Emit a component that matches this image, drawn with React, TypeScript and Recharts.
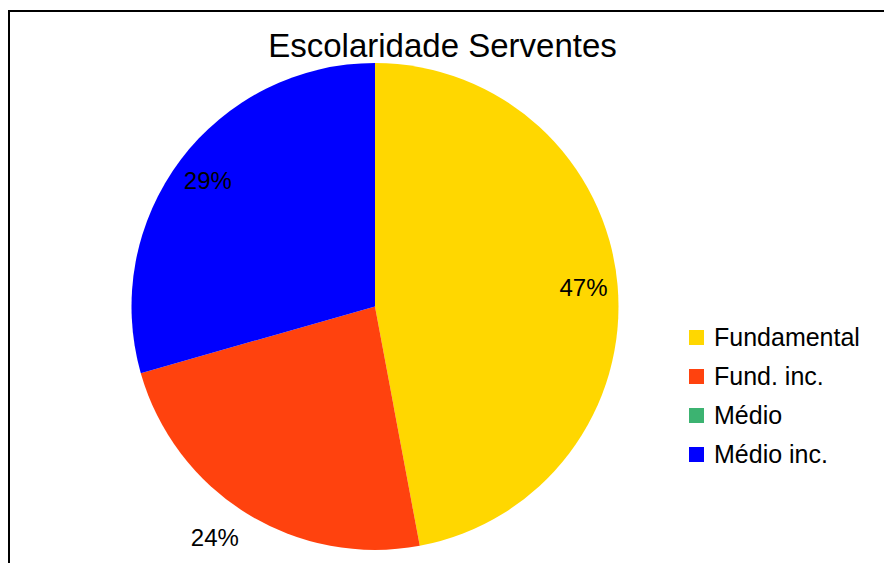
import React from "react";
import { PieChart, Pie, Cell, Legend, Customized } from "recharts";

const categories = ["Fundamental", "Fund. inc.", "Médio", "Médio inc."];
const counts = [8, 4, 0, 5];
const colors = ["#FFD700", "#FF420E", "#3CB371", "#0000FF"];
const title = "Escolaridade Serventes";

const data = categories.map((name, i) => ({ name, value: counts[i] }));

const FONT = '"Liberation Sans", Arial, Helvetica, sans-serif';
const OUTSIDE = new Set(["Fund. inc."]);
const RAD = Math.PI / 180;

const renderLabel = (props: any) => {
  const { cx, cy, midAngle, outerRadius, percent, name, value } = props;
  if (!value) return null;
  const txt = `${Math.round(percent * 100)}%`;
  const cos = Math.cos(-midAngle * RAD);
  const sin = Math.sin(-midAngle * RAD);
  if (OUTSIDE.has(name)) {
    const d = outerRadius + 15;
    const x = cx + d * cos;
    const y = cy + d * sin;
    return (
      <text x={x} y={y + 20} textAnchor="end" fontSize={24} fontFamily={FONT} fill="#000">
        {txt}
      </text>
    );
  }
  const d = outerRadius * 0.86;
  const x = cx + d * cos;
  const y = cy + d * sin;
  return (
    <text x={x} y={y} textAnchor="middle" dominantBaseline="central" fontSize={24} fontFamily={FONT} fill="#000">
      {txt}
    </text>
  );
};

const renderLegend = () => (
  <div style={{ fontFamily: FONT, fontSize: 25, color: "#000" }}>
    {categories.map((c, i) => (
      <div key={c} style={{ display: "flex", alignItems: "center", height: 39, whiteSpace: "nowrap" }}>
        <span style={{ display: "inline-block", width: 15, height: 15, background: colors[i], marginRight: 10 }} />
        <span>{c}</span>
      </div>
    ))}
  </div>
);

const Title = () => (
  <text x={432.5} y={45} textAnchor="middle" fontSize={33} fontFamily={FONT} fill="#000">
    {title}
  </text>
);

export default function App() {
  return (
    <div style={{ paddingTop: 2 }}>
      <style>{`html,body{overflow:hidden}`}</style>
      <div
        style={{
          position: "relative",
          width: 882,
          height: 551,
          borderTop: "2px solid #000",
          borderLeft: "2px solid #000",
        }}
      >
        <PieChart width={882} height={551} margin={{ top: 0, right: 0, bottom: 0, left: 0 }}>
          <Customized component={Title} />
          <Pie
            data={data}
            dataKey="value"
            nameKey="name"
            cx={365}
            cy={294.5}
            outerRadius={243.5}
            startAngle={90}
            endAngle={-270}
            stroke="none"
            label={renderLabel}
            labelLine={false}
            isAnimationActive={false}
          >
            {data.map((d, i) => (
              <Cell key={d.name} fill={colors[i]} />
            ))}
          </Pie>
          <Legend
            content={renderLegend}
            wrapperStyle={{ position: "absolute", left: 679, top: 305.5, width: 200, height: 160 }}
          />
        </PieChart>
      </div>
    </div>
  );
}
